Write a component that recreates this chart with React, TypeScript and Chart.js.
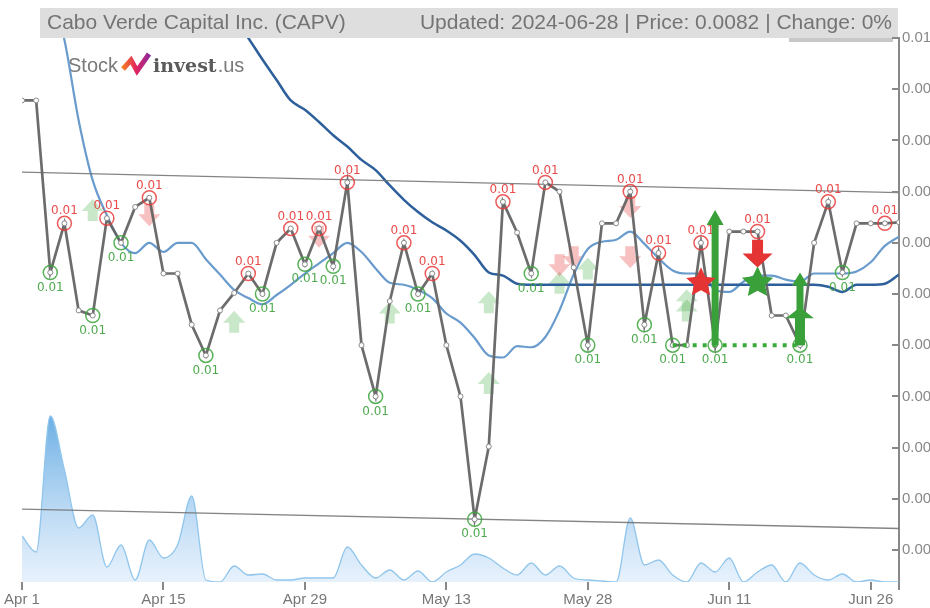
import { useEffect, useRef } from 'react';
import { Chart, registerables } from 'chart.js';

Chart.register(...registerables);

const titleLeft = 'Cabo Verde Capital Inc. (CAPV)';
const titleRight = 'Updated: 2024-06-28 | Price: 0.0082 | Change: 0%';

// x tick labels every 10 trading days (index 0 = Apr 1 ... index 62 = Jun 28)
const tickLabels = ['Apr 1', 'Apr 15', 'Apr 29', 'May 13', 'May 28', 'Jun 11', 'Jun 26'];
const xTickIdx = [0, 10, 20, 30, 40, 50, 60, 62];
const yTicks = [0.01, 0.0095, 0.009, 0.0085, 0.008, 0.0075, 0.007, 0.0065, 0.006, 0.0055, 0.005];
const yMin = 0.0046875;
const yMax = 0.01;
const lastIndex = 62;

const price = [
  0.00939, 0.00939, 0.00771, 0.00819, 0.00734, 0.00729, 0.00824, 0.008, 0.00835, 0.00844,
  0.0077, 0.0077, 0.0072, 0.0069, 0.00734, 0.00751, 0.0077, 0.0075, 0.008, 0.00814,
  0.00779, 0.00814, 0.00777, 0.00859, 0.007, 0.0065, 0.00743, 0.008, 0.0075, 0.0077,
  0.007, 0.0065, 0.0053, 0.00601, 0.0084, 0.0081, 0.0077, 0.00859, 0.0085, 0.00776,
  0.007, 0.00819, 0.00819, 0.0085, 0.0072, 0.0079, 0.007, 0.007, 0.008, 0.007,
  0.00811, 0.00811, 0.00811, 0.00729, 0.00729, 0.007, 0.008, 0.0084, 0.00771, 0.00819,
  0.00819, 0.00819, 0.0082,
];

const maShort = [
  0.01154, 0.01096, 0.01047, 0.00998, 0.0092, 0.00861, 0.00827, 0.008, 0.0079, 0.008,
  0.00791, 0.008, 0.008, 0.00784, 0.00769, 0.00754, 0.00746, 0.0074, 0.00749, 0.00759,
  0.0077, 0.0078, 0.0079, 0.008, 0.00791, 0.00775, 0.00761, 0.00759, 0.00754, 0.00746,
  0.00731, 0.00722, 0.00707, 0.0069, 0.00688, 0.00699, 0.00698, 0.00708, 0.00734, 0.00769,
  0.00794, 0.00801, 0.00803, 0.00811, 0.00799, 0.00785, 0.00773, 0.0077, 0.0077, 0.00754,
  0.00752, 0.00762, 0.00768, 0.00768, 0.00764, 0.00762, 0.0077, 0.0077, 0.0077, 0.00772,
  0.00781, 0.00797, 0.00806,
];

const maLong = [
  0.013, 0.0128, 0.0126, 0.0124, 0.0122, 0.012, 0.0118, 0.0116, 0.0114, 0.0112,
  0.011, 0.0109, 0.0107, 0.0106, 0.0104, 0.0102, 0.01, 0.00979, 0.00959, 0.00939,
  0.0093, 0.00918, 0.00905, 0.00894, 0.00881, 0.00871, 0.00856, 0.00842, 0.0083, 0.0082,
  0.00812, 0.00802, 0.00788, 0.00771, 0.00768, 0.0076, 0.00759, 0.00759, 0.00759, 0.00759,
  0.00759, 0.00759, 0.00759, 0.00759, 0.00759, 0.00759, 0.00759, 0.00759, 0.00759, 0.00759,
  0.00759, 0.00759, 0.00759, 0.00759, 0.00759, 0.00759, 0.00759, 0.00757, 0.00752, 0.00759,
  0.00759, 0.0076, 0.00769,
];

const volume = [
  46000, 30000, 166000, 112000, 54000, 67000, 15000, 37000, 2000, 42000,
  24000, 37000, 86000, 2000, 0, 16000, 7000, 8000, 2000, 2000,
  4000, 4000, 4000, 35000, 17000, 4000, 12000, 2000, 11000, 0,
  10000, 17000, 28000, 24000, 14000, 7000, 19000, 7000, 16000, 4000,
  2000, 1000, 0, 64000, 17000, 22000, 7000, 0, 19000, 10000,
  24000, 0, 10000, 17000, 0, 19000, 7000, 2000, 8000, 0,
  2000, 0, 0,
];
const volumeMax = 544000;

const peakIdx = [3, 6, 9, 16, 19, 21, 23, 27, 29, 34, 37, 43, 45, 48, 52, 57, 61];
const troughIdx = [2, 5, 7, 13, 17, 20, 22, 25, 28, 32, 36, 40, 44, 46, 49, 55, 58];

const channelUpper = [0.00869, 0.00849];
const channelLower = [0.0054, 0.00521];

// faded signal arrows [index, value]
const fadedBuy = [[5, 0.00832], [15, 0.00723], [26, 0.00732], [33, 0.00742], [33, 0.00663], [38, 0.00761], [40, 0.00775], [47, 0.00744], [47, 0.00734]];
const fadedSell = [[9, 0.00827], [21, 0.00806], [38, 0.00778], [39, 0.00786], [43, 0.00835], [43, 0.00786]];

// strong signals
const redStar = [48, 0.00761];
const greenStar = [52, 0.00761];
const sellArrow = [52, 0.00803, 0.00776]; // index, top, tip
const buyLevel = 0.007;
const buyArrows = [[49, 0.00832, 7, 17, 15], [55, 0.00771, 7, 16, 13], [55, 0.00737, 10, 28, 11]]; // index, tip, shaft, headW, headH
const supportLine = [46, 55, 0.007];

const FONT = "'Liberation Sans', Arial, sans-serif";

function drawArrow(ctx: any, cx: number, tipY: number, baseY: number, shaftW: number, headW: number, headH: number, color: string) {
  const dir = tipY < baseY ? 1 : -1;
  const hb = tipY + dir * headH;
  ctx.fillStyle = color;
  ctx.beginPath();
  ctx.moveTo(cx, tipY);
  ctx.lineTo(cx + headW / 2, hb);
  ctx.lineTo(cx + shaftW / 2, hb);
  ctx.lineTo(cx + shaftW / 2, baseY);
  ctx.lineTo(cx - shaftW / 2, baseY);
  ctx.lineTo(cx - shaftW / 2, hb);
  ctx.lineTo(cx - headW / 2, hb);
  ctx.closePath();
  ctx.fill();
}

function drawStar(ctx: any, cx: number, cy: number, R: number, r: number, color: string) {
  ctx.fillStyle = color;
  ctx.beginPath();
  for (let k = 0; k < 10; k++) {
    const a = -Math.PI / 2 + (k * Math.PI) / 5;
    const rad = k % 2 === 0 ? R : r;
    ctx.lineTo(cx + rad * Math.cos(a), cy + rad * Math.sin(a));
  }
  ctx.closePath();
  ctx.fill();
}

const overlay = {
  id: 'overlay',
  beforeDraw(chart: any) {
    const ctx = chart.ctx;
    ctx.save();
    ctx.fillStyle = '#dedede';
    ctx.fillRect(40, 8, 858, 30);
    ctx.fillStyle = '#747474';
    ctx.font = `21px ${FONT}`;
    ctx.textBaseline = 'middle';
    ctx.textAlign = 'left';
    ctx.fillText(titleLeft, 47, 23);
    ctx.textAlign = 'right';
    ctx.fillText(titleRight, 892, 23);
    ctx.fillStyle = '#c8c8c8';
    ctx.fillRect(789, 38, 104, 4);

    // logo
    ctx.textAlign = 'left';
    ctx.textBaseline = 'alphabetic';
    ctx.font = `20px ${FONT}`;
    ctx.fillStyle = '#7a7a7a';
    ctx.fillText('Stock', 68, 72);
    const g = ctx.createLinearGradient(122, 0, 150, 0);
    g.addColorStop(0, '#f5821f');
    g.addColorStop(0.5, '#e3245f');
    g.addColorStop(1, '#8a2a9e');
    ctx.strokeStyle = g;
    ctx.lineWidth = 5;
    ctx.lineJoin = 'miter';
    ctx.beginPath();
    ctx.moveTo(123, 69);
    ctx.lineTo(131, 60);
    ctx.lineTo(137, 71);
    ctx.lineTo(149, 54);
    ctx.stroke();
    ctx.font = `bold 19px 'DejaVu Serif', serif`;
    ctx.fillStyle = '#5a5a5a';
    ctx.fillText('invest', 153, 72);
    const w = ctx.measureText('invest').width;
    ctx.font = `20px ${FONT}`;
    ctx.fillStyle = '#7a7a7a';
    ctx.fillText('.us', 154 + w, 72);
    ctx.restore();
  },
  beforeDatasetsDraw(chart: any) {
    const ctx = chart.ctx;
    const xs = chart.scales.x;
    const ys = chart.scales.y;
    const area = chart.chartArea;
    ctx.save();
    ctx.beginPath();
    ctx.rect(area.left, area.top, area.right - area.left, area.bottom - area.top);
    ctx.clip();
    fadedBuy.forEach(([i, v]) => {
      const cx = xs.getPixelForValue(i);
      const cy = ys.getPixelForValue(v);
      drawArrow(ctx, cx, cy - 11, cy + 11, 10, 22, 12, 'rgba(60,170,60,0.28)');
    });
    fadedSell.forEach(([i, v]) => {
      const cx = xs.getPixelForValue(i);
      const cy = ys.getPixelForValue(v);
      drawArrow(ctx, cx, cy + 11, cy - 11, 10, 22, 12, 'rgba(230,50,50,0.3)');
    });
    ctx.restore();
  },
  afterDatasetsDraw(chart: any) {
    const ctx = chart.ctx;
    const xs = chart.scales.x;
    const ys = chart.scales.y;
    const area = chart.chartArea;
    ctx.save();
    // inward y tick marks
    ctx.strokeStyle = '#888';
    ctx.lineWidth = 2;
    yTicks.forEach((v) => {
      const y = Math.round(ys.getPixelForValue(v));
      ctx.beginPath();
      ctx.moveTo(area.right - 7, y);
      ctx.lineTo(area.right, y);
      ctx.stroke();
    });
    // labels
    ctx.font = "12px 'DejaVu Sans', sans-serif";
    ctx.textAlign = 'center';
    ctx.textBaseline = 'middle';
    ctx.fillStyle = 'rgba(232,64,64,0.95)';
    peakIdx.forEach((i) => {
      ctx.fillText(price[i].toFixed(2), xs.getPixelForValue(i), ys.getPixelForValue(price[i]) - 12);
    });
    ctx.fillStyle = 'rgba(70,165,70,0.95)';
    troughIdx.forEach((i) => {
      ctx.fillText(price[i].toFixed(2), xs.getPixelForValue(i), ys.getPixelForValue(price[i]) + 15);
    });
    // strong signals
    const base = ys.getPixelForValue(buyLevel);
    buyArrows.forEach(([i, tip, sw, hw, hh]) => {
      drawArrow(ctx, xs.getPixelForValue(i), ys.getPixelForValue(tip), base, sw, hw, hh, 'rgb(58,160,58)');
    });
    drawArrow(ctx, xs.getPixelForValue(sellArrow[0]), ys.getPixelForValue(sellArrow[2]), ys.getPixelForValue(sellArrow[1]), 11, 30, 14, 'rgb(228,52,52)');
    drawStar(ctx, xs.getPixelForValue(redStar[0]), ys.getPixelForValue(redStar[1]), 15.5, 7.5, 'rgb(228,52,52)');
    drawStar(ctx, xs.getPixelForValue(greenStar[0]), ys.getPixelForValue(greenStar[1]), 16.5, 8, 'rgb(58,160,58)');
    ctx.restore();
  },
};

export default function App() {
  const ref = useRef<HTMLCanvasElement | null>(null);
  useEffect(() => {
    if (!ref.current) return;
    Chart.defaults.font.family = FONT;
    const pts = (arr: number[]) => arr.map((v, i) => ({ x: i, y: v }));
    const chart = new Chart(ref.current, {
      type: 'line',
      data: {
        datasets: [
          {
            label: 'peaks',
            data: peakIdx.map((i) => ({ x: i, y: price[i] })),
            showLine: false,
            pointRadius: 7,
            pointBackgroundColor: 'rgba(0,0,0,0)',
            pointBorderColor: 'rgba(232,60,60,0.85)',
            pointBorderWidth: 1.5,
            order: 0,
          },
          {
            label: 'troughs',
            data: troughIdx.map((i) => ({ x: i, y: price[i] })),
            showLine: false,
            pointRadius: 7,
            pointBackgroundColor: 'rgba(0,0,0,0)',
            pointBorderColor: 'rgba(60,165,60,0.85)',
            pointBorderWidth: 1.5,
            order: 0,
          },
          {
            label: 'support',
            data: [{ x: supportLine[0], y: supportLine[2] }, { x: supportLine[1], y: supportLine[2] }],
            borderColor: 'rgb(58,170,58)',
            borderWidth: 4,
            borderDash: [4, 6],
            pointRadius: 0,
            order: 1,
          },
          {
            label: 'price',
            data: pts(price),
            borderColor: 'rgba(100,100,100,0.95)',
            borderWidth: 2.7,
            pointRadius: 2.5,
            pointBackgroundColor: '#fff',
            pointBorderColor: '#888',
            pointBorderWidth: 1,
            tension: 0,
            order: 2,
          },
          {
            label: 'upper',
            data: [{ x: 0, y: channelUpper[0] }, { x: lastIndex, y: channelUpper[1] }],
            borderColor: 'rgba(110,110,110,0.85)',
            borderWidth: 1.3,
            pointRadius: 0,
            order: 3,
          },
          {
            label: 'lower',
            data: [{ x: 0, y: channelLower[0] }, { x: lastIndex, y: channelLower[1] }],
            borderColor: 'rgba(110,110,110,0.85)',
            borderWidth: 1.3,
            pointRadius: 0,
            order: 3,
          },
          {
            label: 'maLong',
            data: pts(maLong),
            borderColor: 'rgb(45,95,155)',
            borderWidth: 2.5,
            pointRadius: 0,
            cubicInterpolationMode: 'monotone',
            order: 4,
          },
          {
            label: 'maShort',
            data: pts(maShort),
            borderColor: 'rgb(105,155,205)',
            borderWidth: 2.2,
            pointRadius: 0,
            cubicInterpolationMode: 'monotone',
            order: 5,
          },
          {
            label: 'volume',
            data: pts(volume),
            yAxisID: 'yv',
            borderColor: 'rgb(145,198,236)',
            borderWidth: 1.3,
            pointRadius: 0,
            cubicInterpolationMode: 'monotone',
            fill: 'origin',
            backgroundColor: (c: any) => {
              const area = c.chart.chartArea;
              if (!area) return 'rgba(150,200,240,0.5)';
              const gr = c.chart.ctx.createLinearGradient(0, area.bottom - 170, 0, area.bottom);
              gr.addColorStop(0, 'rgba(95,168,226,0.95)');
              gr.addColorStop(1, 'rgba(215,232,250,0.6)');
              return gr;
            },
            order: 6,
          },
        ] as any,
      },
      options: {
        responsive: false,
        animation: false,
        events: [],
        layout: { padding: { top: 38, left: 22, right: 0, bottom: 0 } },
        plugins: { legend: { display: false }, tooltip: { enabled: false } },
        scales: {
          x: {
            type: 'linear',
            min: 0,
            max: lastIndex,
            afterBuildTicks: (s: any) => {
              s.ticks = xTickIdx.map((v) => ({ value: v }));
            },
            afterFit: (s: any) => {
              s.height = 26;
            },
            ticks: {
              autoSkip: false,
              maxRotation: 0,
              color: '#777',
              font: { size: 15 },
              padding: 1,
              callback: (v: any) => (v % 10 === 0 ? tickLabels[v / 10] ?? '' : ''),
            },
            grid: { drawOnChartArea: false, drawTicks: true, tickLength: 8, color: '#888', lineWidth: 2 },
            border: { display: false },
          },
          y: {
            position: 'right',
            min: yMin,
            max: yMax,
            afterBuildTicks: (s: any) => {
              s.ticks = yTicks.map((v) => ({ value: v }));
            },
            afterFit: (s: any) => {
              s.width = 31;
            },
            ticks: {
              color: '#888',
              font: { size: 15 },
              padding: 3,
              callback: (v: any) => Number(v).toFixed(4),
            },
            grid: { drawOnChartArea: false, drawTicks: false, color: '#888' },
            border: { display: true, color: '#888', width: 2 },
          },
          yv: { display: false, min: 0, max: volumeMax },
        },
      } as any,
      plugins: [overlay],
    });
    return () => chart.destroy();
  }, []);
  return (
    <div style={{ position: 'absolute', left: 0, top: 0, width: 930, height: 608, overflow: 'hidden', background: '#fff' }}>
      <canvas ref={ref} width={930} height={608} style={{ display: 'block' }} />
    </div>
  );
}
